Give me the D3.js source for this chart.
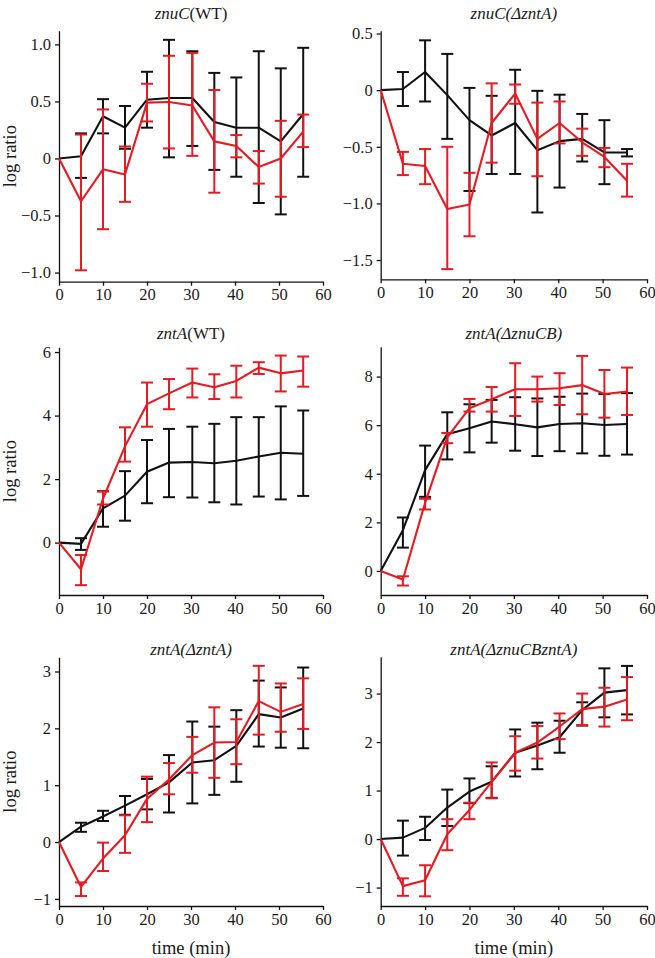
<!DOCTYPE html>
<html>
<head>
<meta charset="utf-8">
<script src="https://cdn.jsdelivr.net/npm/d3@7"></script>
<style>
  body { margin: 0; background: #fff; }
  svg { display: block; font-family: "Liberation Serif", "Times New Roman", Times, serif; }
  .axis path, .axis line { stroke: #111; stroke-width: 1.3px; }
  .axis text { font-size: 16.5px; fill: #1a1a1a; }
  .panel-title { font-size: 17px; fill: #1a1a1a; }
  .axis-label { font-size: 18.5px; fill: #1a1a1a; }
</style>
</head>
<body>
<svg id="chart" width="655" height="958"></svg>
<script>
// Sampling times (min) and x ticks
const times = [0, 5, 10, 15, 20, 25, 30.3, 35.3, 40.3, 45.4, 50.4, 55.5];
const xTicks = [0, 10, 20, 30, 40, 50, 60];

// znuC (WT)
const znuCWT_blackMean = [0, 0.02, 0.37, 0.27, 0.515, 0.53, 0.53, 0.32, 0.27, 0.27, 0.15, 0.39];
const znuCWT_blackLo = [null, -0.17, 0.22, 0.085, 0.27, 0.01, 0.11, -0.1, -0.16, -0.39, -0.49, -0.16];
const znuCWT_blackHi = [null, 0.22, 0.52, 0.46, 0.76, 1.04, 0.94, 0.75, 0.71, 0.94, 0.79, 0.97];
const znuCWT_redMean = [0, -0.375, -0.095, -0.14, 0.49, 0.495, 0.465, 0.15, 0.11, -0.075, 0.0, 0.235];
const znuCWT_redLo = [null, -0.98, -0.62, -0.38, 0.325, 0.088, 0.023, -0.3, 0.01, -0.22, -0.335, 0.1];
const znuCWT_redHi = [null, 0.21, 0.43, 0.105, 0.655, 0.9, 0.925, 0.6, 0.205, 0.065, 0.33, 0.385];

// znuC (delta zntA)
const znuCdZ_blackMean = [0, 0.01, 0.16, -0.044, -0.265, -0.4, -0.29, -0.53, -0.45, -0.43, -0.55, -0.55];
const znuCdZ_blackLo = [null, -0.14, -0.1, -0.43, -0.89, -0.74, -0.74, -1.08, -0.86, -0.63, -0.83, -0.585];
const znuCdZ_blackHi = [null, 0.16, 0.44, 0.32, 0.02, -0.05, 0.18, -0.006, -0.04, -0.21, -0.265, -0.52];
const znuCdZ_redMean = [0, -0.65, -0.67, -1.05, -1.01, -0.29, -0.03, -0.43, -0.29, -0.46, -0.59, -0.8];
const znuCdZ_redLo = [null, -0.75, -0.83, -1.58, -1.29, -0.64, -0.12, -0.76, -0.47, -0.58, -0.68, -0.94];
const znuCdZ_redHi = [null, -0.545, -0.52, -0.5, -0.73, 0.06, 0.05, -0.11, -0.1, -0.34, -0.51, -0.65];

// zntA (WT)
const zntAWT_blackMean = [0, -0.04, 1.08, 1.48, 2.23, 2.52, 2.54, 2.5, 2.58, 2.71, 2.83, 2.8];
const zntAWT_blackLo = [null, -0.23, 0.5, 0.69, 1.24, 1.43, 1.42, 1.27, 1.2, 1.45, 1.36, 1.47];
const zntAWT_blackHi = [null, 0.14, 1.62, 2.25, 3.23, 3.58, 3.65, 3.74, 3.95, 3.95, 4.29, 4.16];
const zntAWT_redMean = [0, -0.84, 1.38, 3.03, 4.36, 4.7, 5.04, 4.89, 5.09, 5.51, 5.33, 5.42];
const zntAWT_redLo = [null, -1.34, 1.2, 2.55, 3.65, 4.2, 4.57, 4.52, 4.57, 5.31, 4.76, 4.91];
const zntAWT_redHi = [null, -0.39, 1.61, 3.63, 5.04, 5.15, 5.48, 5.3, 5.57, 5.68, 5.89, 5.86];

// zntA (delta znuCB)
const zntAdCB_blackMean = [0, 1.68, 4.15, 5.63, 5.87, 6.15, 6.04, 5.91, 6.05, 6.08, 6.01, 6.05];
const zntAdCB_blackLo = [null, 0.96, 3.05, 4.59, 4.88, 5.28, 4.95, 4.73, 4.93, 4.84, 4.74, 4.79];
const zntAdCB_blackHi = [null, 2.2, 5.16, 6.53, 6.86, 7.04, 7.15, 7.1, 7.17, 7.3, 7.28, 7.32];
const zntAdCB_redMean = [0, -0.35, 2.8, 5.5, 6.7, 7.07, 7.48, 7.48, 7.52, 7.65, 7.28, 7.38];
const zntAdCB_redLo = [null, -0.6, 2.53, 5.26, 6.56, 6.56, 6.38, 6.97, 6.83, 6.45, 6.31, 6.42];
const zntAdCB_redHi = [null, -0.22, 2.97, 5.68, 7.08, 7.57, 8.55, 8.0, 8.14, 8.85, 8.27, 8.37];

// zntA (delta zntA)
const zntAdZ_blackMean = [0, 0.27, 0.45, 0.64, 0.84, 1.05, 1.4, 1.44, 1.69, 2.25, 2.19, 2.35];
const zntAdZ_blackLo = [null, 0.18, 0.37, 0.48, 0.575, 0.52, 0.68, 0.83, 1.06, 1.68, 1.66, 1.65];
const zntAdZ_blackHi = [null, 0.34, 0.55, 0.81, 1.11, 1.53, 2.12, 2.03, 2.32, 2.84, 2.72, 3.07];
const zntAdZ_redMean = [0, -0.79, -0.29, 0.12, 0.76, 1.1, 1.53, 1.75, 1.76, 2.48, 2.29, 2.43];
const zntAdZ_redLo = [null, -0.95, -0.51, -0.19, 0.35, 0.84, 1.22, 1.13, 1.37, 1.89, 1.94, 1.99];
const zntAdZ_redHi = [null, -0.71, -0.01, 0.47, 1.15, 1.39, 1.85, 2.37, 2.16, 3.1, 2.79, 2.88];

// zntA (delta znuCB zntA)
const zntAdCBZ_blackMean = [0, 0.03, 0.23, 0.65, 0.98, 1.18, 1.78, 1.93, 2.1, 2.66, 3.02, 3.07];
const zntAdCBZ_blackLo = [null, -0.34, -0.02, 0.27, 0.74, 0.85, 1.29, 1.44, 1.78, 2.34, 2.51, 2.57];
const zntAdCBZ_blackHi = [null, 0.38, 0.46, 1.02, 1.25, 1.5, 2.26, 2.4, 2.44, 2.82, 3.52, 3.57];
const zntAdCBZ_redMean = [0, -0.97, -0.85, 0.1, 0.6, 1.18, 1.78, 1.99, 2.32, 2.68, 2.73, 2.88];
const zntAdCBZ_redLo = [null, -1.17, -1.18, -0.23, 0.41, 0.84, 1.41, 1.66, 2.06, 2.35, 2.32, 2.45];
const zntAdCBZ_redHi = [null, -0.81, -0.54, 0.41, 0.75, 1.58, 2.12, 2.33, 2.59, 3.0, 3.12, 3.34];

// Layout
const fontStack = '"Liberation Serif", "Times New Roman", Times, serif';
const colRange = [[59, 323], [380.7, 647]];
const lineColors = { black: "#111111", red: "#e41b23" };
const capHalf = 6;

const panels = [
  { col: 0, bottom: 281.7, top: 30.7, titleY: 19, domain: [-1.08, 1.12], ticks: [-1, -0.5, 0, 0.5, 1], fmt: ".1f",
    title: [["znuC", true], ["(WT)", false]],
    black: [znuCWT_blackMean, znuCWT_blackLo, znuCWT_blackHi], red: [znuCWT_redMean, znuCWT_redLo, znuCWT_redHi] },
  { col: 1, bottom: 279.3, top: 30.7, titleY: 19, domain: [-1.67, 0.525], ticks: [-1.5, -1, -0.5, 0, 0.5], fmt: ".1f",
    title: [["znuC(\u0394zntA)", true]],
    black: [znuCdZ_blackMean, znuCdZ_blackLo, znuCdZ_blackHi], red: [znuCdZ_redMean, znuCdZ_redLo, znuCdZ_redHi] },
  { col: 0, bottom: 595, top: 347.3, titleY: 339, domain: [-1.65, 6.15], ticks: [0, 2, 4, 6], fmt: "d",
    title: [["zntA", true], ["(WT)", false]],
    black: [zntAWT_blackMean, zntAWT_blackLo, zntAWT_blackHi], red: [zntAWT_redMean, zntAWT_redLo, zntAWT_redHi] },
  { col: 1, bottom: 595, top: 346.7, titleY: 339, domain: [-0.99, 9.23], ticks: [0, 2, 4, 6, 8], fmt: "d",
    title: [["zntA(\u0394znuCB)", true]],
    black: [zntAdCB_blackMean, zntAdCB_blackLo, zntAdCB_blackHi], red: [zntAdCB_redMean, zntAdCB_redLo, zntAdCB_redHi] },
  { col: 0, bottom: 906, top: 657.3, titleY: 655, domain: [-1.125, 3.25], ticks: [-1, 0, 1, 2, 3], fmt: "d",
    title: [["zntA(\u0394zntA)", true]],
    black: [zntAdZ_blackMean, zntAdZ_blackLo, zntAdZ_blackHi], red: [zntAdZ_redMean, zntAdZ_redLo, zntAdZ_redHi] },
  { col: 1, bottom: 906, top: 656.7, titleY: 655, domain: [-1.38, 3.76], ticks: [-1, 0, 1, 2, 3], fmt: "d",
    title: [["zntA(\u0394znuCBzntA)", true]],
    black: [zntAdCBZ_blackMean, zntAdCBZ_blackLo, zntAdCBZ_blackHi], red: [zntAdCBZ_redMean, zntAdCBZ_redLo, zntAdCBZ_redHi] },
];

const svg = d3.select("#chart");

function drawSeries(g, x, y, arrays, color) {
  const [mean, lo, hi] = arrays;
  const pts = times.map((t, i) => ({ t, v: mean[i], lo: lo[i], hi: hi[i] }));

  const line = d3.line().x((d) => x(d.t)).y((d) => y(d.v));
  g.append("path")
    .datum(pts)
    .attr("d", line)
    .attr("fill", "none")
    .attr("stroke", color)
    .attr("stroke-width", 2.1)
    .attr("stroke-linejoin", "round");

  // Error bars
  const bars = pts.filter((d) => d.lo !== null);
  const eb = g.append("g").attr("stroke", color).attr("stroke-width", 2);
  eb.selectAll("line.stem").data(bars).enter().append("line")
    .attr("class", "stem")
    .attr("x1", (d) => x(d.t)).attr("x2", (d) => x(d.t))
    .attr("y1", (d) => y(d.lo)).attr("y2", (d) => y(d.hi));
  eb.selectAll("line.cap-hi").data(bars).enter().append("line")
    .attr("class", "cap-hi")
    .attr("x1", (d) => x(d.t) - capHalf).attr("x2", (d) => x(d.t) + capHalf)
    .attr("y1", (d) => y(d.hi)).attr("y2", (d) => y(d.hi));
  eb.selectAll("line.cap-lo").data(bars).enter().append("line")
    .attr("class", "cap-lo")
    .attr("x1", (d) => x(d.t) - capHalf).attr("x2", (d) => x(d.t) + capHalf)
    .attr("y1", (d) => y(d.lo)).attr("y2", (d) => y(d.lo));
}

function drawPanel(p, idx) {
  const g = svg.append("g").attr("class", "panel");
  const x = d3.scaleLinear().domain([0, 60]).range(colRange[p.col]);
  const y = d3.scaleLinear().domain(p.domain).range([p.bottom, p.top]);
  const f = d3.format(p.fmt);

  g.append("g")
    .attr("class", "axis")
    .attr("transform", `translate(0,${p.bottom})`)
    .call(d3.axisBottom(x).tickValues(xTicks).tickSizeInner(4).tickSizeOuter(0).tickPadding(3).tickFormat(d3.format("d")))
    .attr("font-family", fontStack);

  g.append("g")
    .attr("class", "axis")
    .attr("transform", `translate(${colRange[p.col][0]},0)`)
    .call(d3.axisLeft(y).tickValues(p.ticks).tickSizeInner(4).tickSizeOuter(0).tickPadding(4)
      .tickFormat((d) => (d === 0 ? "0" : f(d))))
    .attr("font-family", fontStack);

  drawSeries(g, x, y, p.black, lineColors.black);
  drawSeries(g, x, y, p.red, lineColors.red);

  // Title
  const cx = (colRange[p.col][0] + colRange[p.col][1]) / 2;
  const title = g.append("text")
    .attr("class", "panel-title")
    .attr("x", cx)
    .attr("y", p.titleY)
    .attr("text-anchor", "middle");
  p.title.forEach(([txt, it]) => {
    title.append("tspan").attr("font-style", it ? "italic" : "normal").text(txt);
  });

  // Axis labels
  if (p.col === 0) {
    g.append("text")
      .attr("class", "axis-label")
      .attr("text-anchor", "middle")
      .attr("transform", `translate(16,${(p.top + p.bottom) / 2}) rotate(-90)`)
      .text("log ratio");
  }
  if (idx >= 4) {
    g.append("text")
      .attr("class", "axis-label")
      .attr("text-anchor", "middle")
      .attr("x", cx)
      .attr("y", 954)
      .text("time (min)");
  }
}

panels.forEach(drawPanel);
</script>
</body>
</html>
